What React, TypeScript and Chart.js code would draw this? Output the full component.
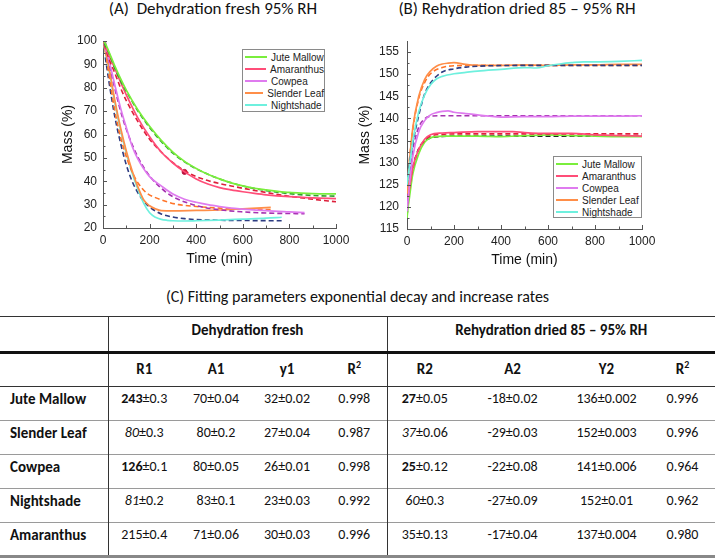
import React, { useEffect, useRef } from "react";
import { Chart, registerables } from "chart.js";

Chart.register(...registerables);

// ---------------- (A) Dehydration fresh 95% RH ----------------
const dehydJuteT = [0, 10, 25, 50, 75, 100, 150, 200, 250, 300, 350, 400, 450, 500, 550, 600, 650, 700, 750, 800, 850, 900, 950, 1000];
const dehydJute = [100, 99, 95.5, 89.5, 84, 79, 70.5, 63.5, 57.5, 52.5, 48.5, 45.5, 43, 41, 39.3, 38, 37, 36.3, 35.7, 35.2, 34.9, 34.7, 34.6, 34.6];
const dehydJuteFitT = [5, 25, 50, 75, 100, 150, 200, 250, 300, 350, 400, 450, 500, 600, 700, 800, 900, 1000];
const dehydJuteFit = [99, 95, 88.5, 83, 78.5, 70, 63, 57, 52, 48.3, 45.3, 43, 41, 38, 36, 34.7, 33.9, 33.6];

const dehydAmarT = [0, 10, 25, 50, 75, 100, 150, 200, 250, 300, 350, 400, 450, 500, 550, 600, 650, 700, 800, 900, 1000];
const dehydAmar = [100, 98, 94, 88.5, 82.5, 77, 67, 59, 52.5, 47.8, 44, 41, 38.8, 37.3, 36.3, 35.5, 34.8, 34.2, 33.4, 32.9, 32.6];
const dehydAmarFitT = [5, 25, 50, 75, 100, 150, 200, 250, 300, 350, 400, 450, 500, 550, 600, 700, 800, 900, 1000];
const dehydAmarFit = [98.5, 92.5, 86.5, 80, 74.5, 65.5, 58, 52.5, 48, 44.5, 42, 40.3, 39, 38, 37, 35.2, 33.6, 32.3, 31.2];

const dehydCowT = [0, 25, 50, 75, 100, 125, 150, 200, 250, 300, 350, 400, 450, 500, 550, 600, 700, 800, 865];
const dehydCow = [100, 92, 81.5, 71.5, 63, 55, 49.5, 42, 38, 34.5, 32.3, 31, 30, 29.2, 28.5, 28.1, 27.4, 26.9, 26.6];
const dehydCowFitT = [10, 25, 50, 75, 100, 150, 200, 250, 300, 400, 500, 600, 700, 865];
const dehydCowFit = [99.5, 91.5, 80, 70.2, 62.2, 50.3, 42.3, 37, 33.4, 29.6, 27.8, 26.9, 26.4, 26.1];

const dehydSlenT = [0, 25, 50, 75, 100, 125, 150, 175, 200, 225, 250, 300, 400, 500, 600, 720];
const dehydSlen = [100, 89, 75, 63, 53, 44.5, 37.5, 32, 29.5, 28.2, 27.4, 27.3, 27.5, 27.7, 28.2, 28.8];
const dehydSlenFitT = [10, 25, 50, 75, 100, 125, 150, 187, 225, 275, 325, 400, 500, 600, 720];
const dehydSlenFit = [96, 86, 70.5, 59, 50.5, 44, 39.3, 35, 33, 31.2, 30, 29.2, 28.5, 28.1, 27.9];

const dehydNightT = [0, 25, 50, 75, 100, 125, 150, 175, 200, 225, 250, 275, 300, 350, 400, 500, 600, 700, 767];
const dehydNight = [100, 88, 74, 62, 52, 43.5, 36.5, 30.5, 26.5, 24.6, 23.7, 23.3, 23.1, 23, 23.1, 23.4, 23.8, 24.2, 24.6];
const dehydNightFitT = [10, 25, 50, 75, 100, 125, 150, 175, 200, 250, 300, 350, 400, 500, 600, 767];
const dehydNightFit = [93, 83, 68, 56.5, 47, 40, 35, 31.5, 29, 26, 24.7, 24, 23.6, 23.3, 23.2, 23.1];

const dehydMarkerT = [350];
const dehydMarker = [44];

// ---------------- (B) Rehydration dried 85 – 95% RH ----------------
const rehydJuteT = [0, 5, 10, 25, 50, 75, 100, 125, 150, 200, 300, 400, 500, 600, 700, 800, 900, 1000];
const rehydJute = [117.5, 120, 122, 127.5, 132, 134.6, 135.6, 135.9, 136, 136, 136, 135.9, 136.1, 136.3, 136.1, 136, 135.9, 135.9];
const rehydJuteFitT = [0, 10, 25, 50, 75, 100, 150, 200, 400, 600, 800, 1000];
const rehydJuteFit = [118, 123.6, 128.9, 133.2, 134.9, 135.6, 135.9, 136, 136, 136, 136, 136];

const rehydAmarT = [0, 5, 10, 25, 50, 75, 100, 150, 200, 300, 400, 450, 500, 600, 700, 800, 900, 1000];
const rehydAmar = [120, 122, 124, 129, 133, 135.3, 136.3, 136.7, 136.8, 137, 137, 137, 136.8, 136.6, 136.6, 136.3, 136.1, 136];
const rehydAmarFitT = [0, 10, 25, 50, 75, 100, 150, 200, 400, 600, 800, 1000];
const rehydAmarFit = [120, 124.2, 128.8, 133, 135, 136, 136.4, 136.5, 136.5, 136.5, 136.5, 136.5];

const rehydCowT = [0, 5, 10, 25, 50, 75, 100, 125, 150, 175, 200, 250, 300, 350, 400, 500, 600, 700, 800, 900, 1000];
const rehydCow = [119, 122, 125, 131.5, 137, 139.5, 140.8, 141.3, 141.6, 141.7, 141.4, 141.1, 140.8, 140.5, 140.3, 140.4, 140.4, 140.5, 140.5, 140.5, 140.6];
const rehydCowFitT = [0, 10, 25, 50, 75, 100, 150, 200, 400, 600, 800, 1000];
const rehydCowFit = [119, 126.3, 132.9, 138, 139.9, 140.5, 140.6, 140.6, 140.6, 140.6, 140.6, 140.6];

const rehydSlenT = [0, 5, 10, 25, 50, 75, 100, 125, 150, 175, 200, 250, 300, 400, 500, 600, 700, 800, 900, 1000];
const rehydSlen = [123, 127, 130, 138, 145, 148.8, 150.7, 151.8, 152.3, 152.5, 152.6, 152.2, 152, 152, 152.1, 152, 152.1, 152.1, 152.2, 152.2];
const rehydSlenFitT = [0, 10, 25, 50, 75, 100, 150, 200, 300, 400, 600, 800, 1000];
const rehydSlenFit = [123, 130.3, 137.6, 144.5, 148.1, 150.1, 151.5, 151.9, 152, 152, 152, 152, 152];

const rehydNightT = [0, 5, 10, 25, 50, 75, 100, 125, 150, 200, 250, 300, 400, 500, 550, 600, 650, 700, 750, 800, 900, 1000];
const rehydNight = [125, 127, 129, 135, 141.5, 145.3, 147.6, 148.9, 149.5, 150.1, 150.4, 150.7, 151.1, 151.5, 151.4, 151.9, 152.3, 152.6, 152.8, 152.8, 152.9, 153.1];
const rehydNightFitT = [0, 10, 25, 50, 75, 100, 150, 200, 250, 300, 400, 600, 800, 1000];
const rehydNightFit = [125, 129.5, 134.5, 140.7, 145.5, 148, 150.5, 151.2, 151.6, 151.8, 151.95, 152, 152, 152];

// ---------------- legend / colours ----------------
const speciesLegend = ["Jute Mallow", "Amaranthus", "Cowpea", "Slender Leaf", "Nightshade"];
const speciesColors = ["#7aee3c", "#ff4d78", "#df7bef", "#ff8e48", "#6ef0de"];
const fitColorsA = ["#2f9e2f", "#dd1f3a", "#a632b0", "#ff7428", "#2d3c82"];
const fitColorsB = ["#1c2a1c", "#dd1f3a", "#a632b0", "#ff7428", "#2d3c82"];

// ---------------- (C) table ----------------
const tableSpecies = ["Jute Mallow", "Slender Leaf", "Cowpea", "Nightshade", "Amaranthus"];
const r1Value = ["243", "80", "126", "81", "215"];
const r1Error = ["0.3", "0.3", "0.1", "0.2", "0.4"];
const r1Style = ["bold", "italic", "bold", "italic", "normal"];
const a1Col = ["70±0.04", "80±0.2", "80±0.05", "83±0.1", "71±0.06"];
const y1Col = ["32±0.02", "27±0.04", "26±0.01", "23±0.03", "30±0.03"];
const rsq1Col = ["0.998", "0.987", "0.998", "0.992", "0.996"];
const r2Value = ["27", "37", "25", "60", "35"];
const r2Error = ["0.05", "0.06", "0.12", "0.3", "0.13"];
const r2Style = ["bold", "italic", "bold", "italic", "normal"];
const a2Col = ["-18±0.02", "-29±0.03", "-22±0.08", "-27±0.09", "-17±0.04"];
const y2Col = ["136±0.002", "152±0.003", "141±0.006", "152±0.01", "137±0.004"];
const rsq2Col = ["0.996", "0.996", "0.964", "0.962", "0.980"];

const AX_FONT = "'Liberation Sans', Arial, sans-serif";
const TXT_FONT = "Carlito, Calibri, Lato, sans-serif";

const zip = (t: number[], v: number[]) => t.map((x, i) => ({ x, y: v[i] }));

function solid(label: string, t: number[], v: number[], color: string) {
  return {
    label, data: zip(t, v), borderColor: color, backgroundColor: color,
    borderWidth: 1.7, pointRadius: 0, fill: false, cubicInterpolationMode: "monotone" as const,
  };
}
function dashed(label: string, t: number[], v: number[], color: string) {
  return {
    label, data: zip(t, v), borderColor: color, backgroundColor: color,
    borderWidth: 1.6, borderDash: [5, 3], pointRadius: 0, fill: false, cubicInterpolationMode: "monotone" as const,
  };
}

const inwardTicks = {
  id: "inwardTicks",
  afterDraw(chart: any) {
    const { ctx, chartArea, scales } = chart;
    const xs = scales.x, ys = scales.y;
    ctx.save();
    ctx.strokeStyle = "#555";
    ctx.lineWidth = 1;
    const seg = (x1: number, y1: number, x2: number, y2: number) => {
      ctx.beginPath(); ctx.moveTo(x1, y1); ctx.lineTo(x2, y2); ctx.stroke();
    };
    const xv = xs.ticks.map((t: any) => t.value);
    xv.forEach((v: number, i: number) => {
      const p = Math.round(xs.getPixelForValue(v)) + 0.5;
      seg(p, chartArea.bottom, p, chartArea.bottom - 4);
      if (i < xv.length - 1) {
        const m = Math.round(xs.getPixelForValue((v + xv[i + 1]) / 2)) + 0.5;
        seg(m, chartArea.bottom, m, chartArea.bottom - 2.5);
      }
    });
    const yv = ys.ticks.map((t: any) => t.value);
    yv.forEach((v: number, i: number) => {
      const p = Math.round(ys.getPixelForValue(v)) + 0.5;
      seg(chartArea.left, p, chartArea.left + 4, p);
      if (i < yv.length - 1) {
        const m = Math.round(ys.getPixelForValue((v + yv[i + 1]) / 2)) + 0.5;
        seg(chartArea.left, m, chartArea.left + 2.5, m);
      }
    });
    ctx.restore();
  },
};

type PanelProps = {
  datasets: any[];
  width: number; height: number;
  yMin: number; yMax: number; yStep: number;
  yWidth: number; xHeight: number; padRight: number; padTop: number;
  yTitlePad: number; xTitlePad: number; yTickPad: number;
};

function Panel(p: PanelProps) {
  const ref = useRef<HTMLCanvasElement | null>(null);
  useEffect(() => {
    if (!ref.current) return;
    const chart = new Chart(ref.current, {
      type: "line",
      data: { datasets: p.datasets },
      plugins: [inwardTicks],
      options: {
        animation: false,
        responsive: false,
        devicePixelRatio: 1,
        layout: { padding: { left: 0, top: p.padTop, right: p.padRight, bottom: 0 } },
        plugins: { legend: { display: false }, title: { display: false }, tooltip: { enabled: false } },
        scales: {
          x: {
            type: "linear", min: 0, max: 1000,
            ticks: { stepSize: 200, padding: 5, color: "#222", font: { family: AX_FONT, size: 12 }, maxRotation: 0, autoSkip: false, includeBounds: false, callback: (v: any) => String(v) },
            grid: { display: true, drawOnChartArea: false, drawTicks: false },
            border: { display: true, color: "#555", width: 1 },
            title: { display: true, text: "Time (min)", color: "#111", font: { family: AX_FONT, size: 14 }, padding: { top: 0, bottom: p.xTitlePad } },
            afterFit: (s: any) => { s.height = p.xHeight; s.paddingLeft = 0; s.paddingRight = 0; },
          },
          y: {
            type: "linear", min: p.yMin, max: p.yMax,
            ticks: { stepSize: p.yStep, padding: p.yTickPad, color: "#222", font: { family: AX_FONT, size: 12 }, includeBounds: false, callback: (v: any) => String(v) },
            grid: { display: true, drawOnChartArea: false, drawTicks: false },
            border: { display: true, color: "#555", width: 1 },
            title: { display: true, text: "Mass (%)", color: "#111", font: { family: AX_FONT, size: 14 }, padding: { top: p.yTitlePad, bottom: 0 } },
            afterFit: (s: any) => { s.width = p.yWidth; s.paddingTop = 0; s.paddingBottom = 0; },
          },
        },
      } as any,
    });
    return () => chart.destroy();
  }, []);
  return <canvas ref={ref} width={p.width} height={p.height} style={{ width: p.width, height: p.height, display: "block" }} />;
}

function Legend({ left, top, width, height }: { left: number; top: number; width: number; height: number }) {
  return (
    <div style={{ position: "absolute", left, top, width, height, boxSizing: "border-box", border: "1px solid #8a8a8a", background: "#fff", paddingTop: 1 }}>
      {speciesLegend.map((name, i) => (
        <div key={name} style={{ display: "flex", alignItems: "center", height: 12, fontFamily: AX_FONT, fontSize: 10, color: "#222" }}>
          <div style={{ width: 22, marginLeft: 2, marginRight: 4, borderTop: `2px solid ${speciesColors[i]}` }} />
          <span style={{ whiteSpace: "nowrap" }}>{name}</span>
        </div>
      ))}
    </div>
  );
}

function fmtR(value: string, err: string, style: string) {
  return (
    <>
      <span style={{ fontWeight: style === "bold" ? 700 : 400, fontStyle: style === "italic" ? "italic" : "normal" }}>{value}</span>±{err}
    </>
  );
}

export default function App() {
  const dsA = [
    solid(speciesLegend[0], dehydJuteT, dehydJute, speciesColors[0]),
    dashed("Jute Mallow fit", dehydJuteFitT, dehydJuteFit, fitColorsA[0]),
    solid(speciesLegend[1], dehydAmarT, dehydAmar, speciesColors[1]),
    dashed("Amaranthus fit", dehydAmarFitT, dehydAmarFit, fitColorsA[1]),
    solid(speciesLegend[2], dehydCowT, dehydCow, speciesColors[2]),
    dashed("Cowpea fit", dehydCowFitT, dehydCowFit, fitColorsA[2]),
    solid(speciesLegend[3], dehydSlenT, dehydSlen, speciesColors[3]),
    dashed("Slender Leaf fit", dehydSlenFitT, dehydSlenFit, fitColorsA[3]),
    solid(speciesLegend[4], dehydNightT, dehydNight, speciesColors[4]),
    dashed("Nightshade fit", dehydNightFitT, dehydNightFit, fitColorsA[4]),
    { label: "marker", data: zip(dehydMarkerT, dehydMarker), showLine: false, pointRadius: 2.5, pointBackgroundColor: "#b8123c", pointBorderColor: "#b8123c" },
  ];
  const dsB = [
    solid(speciesLegend[4], rehydNightT, rehydNight, speciesColors[4]),
    dashed("Nightshade fit", rehydNightFitT, rehydNightFit, fitColorsB[4]),
    solid(speciesLegend[3], rehydSlenT, rehydSlen, speciesColors[3]),
    dashed("Slender Leaf fit", rehydSlenFitT, rehydSlenFit, fitColorsB[3]),
    solid(speciesLegend[2], rehydCowT, rehydCow, speciesColors[2]),
    dashed("Cowpea fit", rehydCowFitT, rehydCowFit, fitColorsB[2]),
    solid(speciesLegend[1], rehydAmarT, rehydAmar, speciesColors[1]),
    dashed("Amaranthus fit", rehydAmarFitT, rehydAmarFit, fitColorsB[1]),
    solid(speciesLegend[0], rehydJuteT, rehydJute, speciesColors[0]),
    dashed("Jute Mallow fit", rehydJuteFitT, rehydJuteFit, fitColorsB[0]),
  ];

  const th: React.CSSProperties = { fontWeight: 700, textAlign: "center", verticalAlign: "top", padding: 0 };
  const td: React.CSSProperties = { textAlign: "center", verticalAlign: "top", padding: "3px 0 0 0", fontSize: 14 };
  const vline = "1px solid #333";
  const rowLine = "1px solid #9a9a9a";

  return (
    <div style={{ position: "absolute", left: 0, top: 0, width: 715, height: 559, background: "#fff", overflow: "hidden", color: "#111" }}>
      <div style={{ position: "absolute", left: 0, top: 0, width: 426, textAlign: "center", fontFamily: TXT_FONT, fontSize: 17, lineHeight: "18px" }}>
        (A)&nbsp; Dehydration fresh 95% RH
      </div>
      <div style={{ position: "absolute", left: 357, top: 0, width: 320, textAlign: "center", fontFamily: TXT_FONT, fontSize: 17, lineHeight: "18px" }}>
        (B) Rehydration dried 85 – 95% RH
      </div>

      <div style={{ position: "absolute", left: 0, top: 0 }}>
        <Panel datasets={dsA} width={357} height={280} yMin={20} yMax={100} yStep={10}
          yWidth={103} xHeight={52} padRight={21} padTop={41} yTitlePad={60} xTitlePad={12} yTickPad={6} />
      </div>
      <div style={{ position: "absolute", left: 357, top: 0 }}>
        <Panel datasets={dsB} width={358} height={280} yMin={115} yMax={157.5} yStep={5}
          yWidth={50} xHeight={51} padRight={73} padTop={41} yTitlePad={0} xTitlePad={11} yTickPad={8} />
      </div>

      <Legend left={242} top={49} width={83} height={63} />
      <Legend left={553} top={156} width={89} height={62} />

      <div style={{ position: "absolute", left: 0, top: 287, width: 715, textAlign: "center", fontFamily: TXT_FONT, fontSize: 16, lineHeight: "20px" }}>
        (C) Fitting parameters exponential decay and increase rates
      </div>

      <table style={{ position: "absolute", left: 0, top: 316, width: 715, borderCollapse: "collapse", tableLayout: "fixed", fontFamily: TXT_FONT, fontSize: 15, lineHeight: "18px", color: "#111" }}>
        <colgroup>
          {[108, 72, 72, 70, 65, 75, 101, 87, 65].map((w, i) => <col key={i} style={{ width: w }} />)}
        </colgroup>
        <tbody>
          <tr style={{ height: 36, borderTop: "1px solid #333", borderBottom: "3px solid #111" }}>
            <td style={{ borderRight: vline }} />
            <td colSpan={4} style={{ ...th, paddingTop: 4, borderRight: vline }}>Dehydration fresh</td>
            <td colSpan={4} style={{ ...th, paddingTop: 4 }}>Rehydration dried 85 – 95% RH</td>
          </tr>
          <tr style={{ height: 34, borderBottom: "1px solid #333" }}>
            <td style={{ borderRight: vline }} />
            <td style={{ ...th, paddingTop: 6 }}>R1</td>
            <td style={{ ...th, paddingTop: 6 }}>A1</td>
            <td style={{ ...th, paddingTop: 6 }}>y1</td>
            <td style={{ ...th, paddingTop: 6, borderRight: vline }}>R<sup style={{ fontSize: 10, lineHeight: 0 }}>2</sup></td>
            <td style={{ ...th, paddingTop: 6 }}>R2</td>
            <td style={{ ...th, paddingTop: 6 }}>A2</td>
            <td style={{ ...th, paddingTop: 6 }}>Y2</td>
            <td style={{ ...th, paddingTop: 6 }}>R<sup style={{ fontSize: 10, lineHeight: 0 }}>2</sup></td>
          </tr>
          {tableSpecies.map((name, i) => (
            <tr key={name} style={{ height: 34, borderBottom: i === tableSpecies.length - 1 ? "3px solid #888" : rowLine }}>
              <td style={{ fontWeight: 700, textAlign: "left", verticalAlign: "top", padding: "3px 0 0 10px", borderRight: vline, whiteSpace: "nowrap" }}>{name}</td>
              <td style={td}>{fmtR(r1Value[i], r1Error[i], r1Style[i])}</td>
              <td style={td}>{a1Col[i]}</td>
              <td style={td}>{y1Col[i]}</td>
              <td style={{ ...td, borderRight: vline }}>{rsq1Col[i]}</td>
              <td style={td}>{fmtR(r2Value[i], r2Error[i], r2Style[i])}</td>
              <td style={td}>{a2Col[i]}</td>
              <td style={td}>{y2Col[i]}</td>
              <td style={td}>{rsq2Col[i]}</td>
            </tr>
          ))}
        </tbody>
      </table>
    </div>
  );
}
